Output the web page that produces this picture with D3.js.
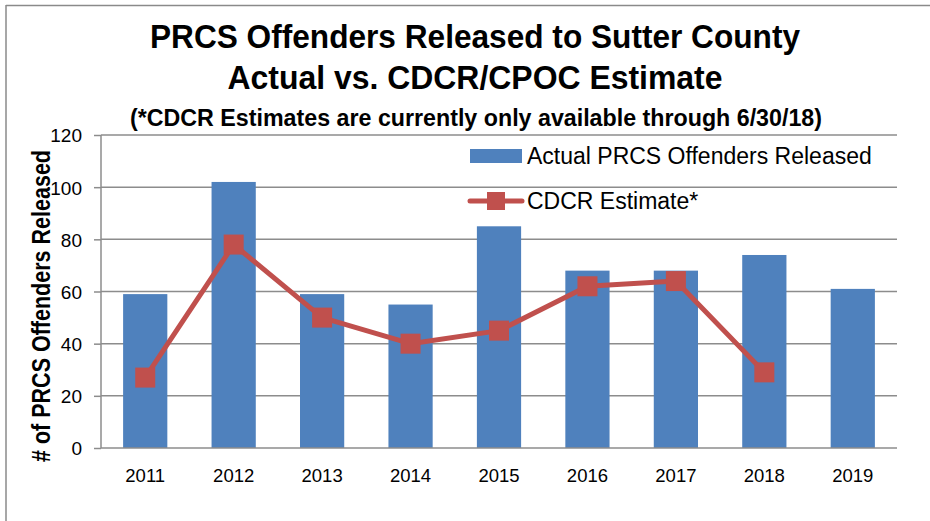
<!DOCTYPE html>
<html>
<head>
<meta charset="utf-8">
<script src="https://cdn.jsdelivr.net/npm/d3@7"></script>
<style>
  body { margin: 0; background: #fff; }
  svg text { font-family: "Liberation Sans", Arial, sans-serif; }
  .ytick text { font-size: 19px; }
  .xtick text { font-size: 18.5px; }
</style>
</head>
<body>
<svg width="930" height="521"></svg>
<script>
// data
const years = ["2011", "2012", "2013", "2014", "2015", "2016", "2017", "2018", "2019"];
const actual = [59, 102, 59, 55, 85, 68, 68, 74, 61];
const estimate = [27, 78, 50, 40, 45, 62, 64, 29, null];
const yTicks = [0, 20, 40, 60, 80, 100, 120];

const svg = d3.select("svg");
const margin = { left: 101, right: 897, top: 135, bottom: 448 };

// outer frame (only top and left show in the picture)
svg.append("line").attr("x1", 6).attr("x2", 930).attr("y1", 5.5).attr("y2", 5.5)
  .attr("stroke", "#8a8a8a").attr("stroke-width", 1.5);
svg.append("line").attr("x1", 6).attr("x2", 6).attr("y1", 5).attr("y2", 521)
  .attr("stroke", "#8a8a8a").attr("stroke-width", 1.5);

const x = d3.scaleBand().domain(years).range([margin.left, margin.right])
  .paddingInner(0.5).paddingOuter(0.25);
const y = d3.scaleLinear().domain([0, 120]).range([margin.bottom, margin.top]);

// gridlines
svg.append("g")
  .selectAll("line")
  .data(yTicks.filter((d) => d > 0))
  .join("line")
  .attr("x1", margin.left)
  .attr("x2", margin.right)
  .attr("y1", (d) => y(d))
  .attr("y2", (d) => y(d))
  .attr("stroke", "#8c8c8c")
  .attr("stroke-width", 1.5);

// bars
svg.append("g")
  .selectAll("rect")
  .data(actual)
  .join("rect")
  .attr("x", (d, i) => x(years[i]))
  .attr("y", (d) => y(d))
  .attr("width", x.bandwidth())
  .attr("height", (d) => y(0) - y(d))
  .attr("fill", "#4f81bd");

// y axis
const yAxis = svg.append("g")
  .attr("class", "ytick")
  .attr("transform", `translate(${margin.left},0)`)
  .call(d3.axisLeft(y).tickValues(yTicks).tickSize(7).tickPadding(12));
yAxis.attr("font-size", 19);
yAxis.selectAll("line, path").attr("stroke", "#8c8c8c").attr("stroke-width", 1.5);
yAxis.select("path").attr("d", `M0,${margin.top}V${margin.bottom}`);
yAxis.selectAll("text").attr("font-size", 19).attr("fill", "#000").attr("dy", "0.36em");

// x axis
const xAxis = svg.append("g")
  .attr("class", "xtick")
  .attr("transform", `translate(0,${margin.bottom})`)
  .call(d3.axisBottom(x).tickSize(0).tickPadding(21));
xAxis.attr("font-size", 18.5);
xAxis.select("path").attr("stroke", "#8c8c8c").attr("stroke-width", 1.5)
  .attr("d", `M${margin.left},0H${margin.right}`);
xAxis.selectAll("text").attr("font-size", 18.5).attr("fill", "#000");

// estimate line
const pts = estimate.map((v, i) => ({ year: years[i], v })).filter((d) => d.v != null);
const line = d3.line()
  .x((d) => x(d.year) + x.bandwidth() / 2)
  .y((d) => y(d.v));
svg.append("path")
  .datum(pts)
  .attr("d", line)
  .attr("fill", "none")
  .attr("stroke", "#c0504d")
  .attr("stroke-width", 5)
  .attr("stroke-linejoin", "round");
svg.append("g")
  .selectAll("rect")
  .data(pts)
  .join("rect")
  .attr("x", (d) => x(d.year) + x.bandwidth() / 2 - 10)
  .attr("y", (d) => y(d.v) - 10)
  .attr("width", 20)
  .attr("height", 20)
  .attr("fill", "#c0504d");

// titles
const title = svg.append("g").attr("font-weight", "bold").attr("text-anchor", "middle");
title.append("text").attr("x", 475).attr("y", 48).attr("font-size", 34)
  .attr("textLength", 650).attr("lengthAdjust", "spacingAndGlyphs")
  .text("PRCS Offenders Released to Sutter County");
title.append("text").attr("x", 475).attr("y", 89).attr("font-size", 34)
  .attr("textLength", 495).attr("lengthAdjust", "spacingAndGlyphs")
  .text("Actual vs. CDCR/CPOC Estimate");
title.append("text").attr("x", 476).attr("y", 126).attr("font-size", 23)
  .attr("textLength", 692).attr("lengthAdjust", "spacingAndGlyphs")
  .text("(*CDCR Estimates are currently only available through 6/30/18)");

// y axis title
svg.append("text")
  .attr("transform", "translate(50,306) rotate(-90)")
  .attr("text-anchor", "middle")
  .attr("font-weight", "bold")
  .attr("font-size", 25)
  .attr("textLength", 312).attr("lengthAdjust", "spacingAndGlyphs")
  .text("# of PRCS Offenders Released");

// legend
const legend = svg.append("g").attr("font-size", 23);
legend.append("rect").attr("x", 470).attr("y", 149).attr("width", 52).attr("height", 14)
  .attr("fill", "#4f81bd");
legend.append("text").attr("x", 527).attr("y", 164).text("Actual PRCS Offenders Released");
legend.append("line").attr("x1", 470).attr("x2", 522).attr("y1", 201).attr("y2", 201)
  .attr("stroke", "#c0504d").attr("stroke-width", 5).attr("stroke-linecap", "round");
legend.append("rect").attr("x", 487).attr("y", 192).attr("width", 18).attr("height", 18)
  .attr("fill", "#c0504d");
legend.append("text").attr("x", 527).attr("y", 209).text("CDCR Estimate*");
</script>
</body>
</html>
